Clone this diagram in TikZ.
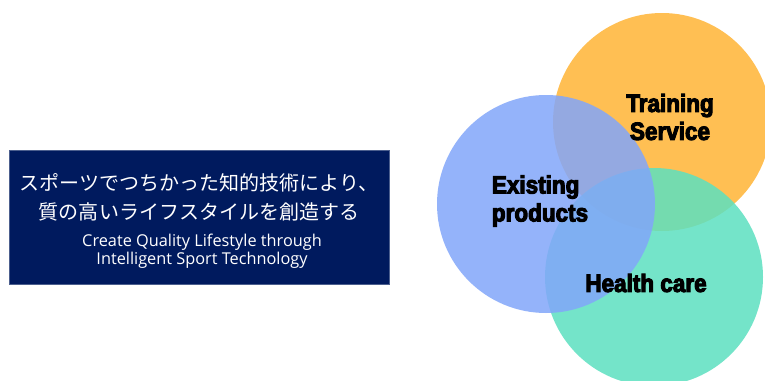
\documentclass[tikz,border=0pt]{standalone}
\usepackage{fontspec}
\newfontfamily\jpfont{Noto Sans CJK JP}
\newfontfamily\enfont{Open Sans}
\newfontfamily\heavyfont[FakeStretch=0.9,FakeBold=4]{Liberation Sans Bold}
\definecolor{navy}{HTML}{001A5E}
\definecolor{corange}{HTML}{FFB436}
\definecolor{cblue}{HTML}{82A6FA}
\definecolor{cgreen}{HTML}{5CE0C0}
\tikzset{
  vcircle/.style={circle, minimum size=218pt, inner sep=0pt, fill opacity=0.85, draw=none},
  vlabel/.style={font=\heavyfont\fontsize{25}{28}\selectfont, text=black, align=center},
}
\begin{document}
\begin{tikzpicture}[x=1pt,y=-1pt]
\useasboundingbox (0,0) rectangle (765,380);
\fill[white] (0,0) rectangle (765,380);
\node[draw=navy!70, fill=navy, minimum width=380pt, minimum height=134pt, inner sep=0pt, anchor=north west] (box) at (9,150) {};
\node[text=white, font=\jpfont\fontsize{20}{29}\selectfont, align=center] (jp) at (199,197) {スポーツでつちかった知的技術により、\\質の高いライフスタイルを創造する};
\node[text=white, font=\enfont\fontsize{16.3}{17.5}\selectfont, align=center] (en) at (202,251) {Create Quality Lifestyle through\\Intelligent Sport Technology};
\node[vcircle, fill=corange] (orange) at (662,122) {};
\node[vcircle, fill=cgreen] (green) at (654,277) {};
\node[vcircle, fill=cblue] (blue) at (546,204) {};
\node[vlabel] (train) at (670,117) {Training\\Service};
\node[vlabel, align=left] (exist) at (540,201) {Existing\\products};
\node[vlabel] (health) at (646,283) {Health care};
\end{tikzpicture}
\end{document}
